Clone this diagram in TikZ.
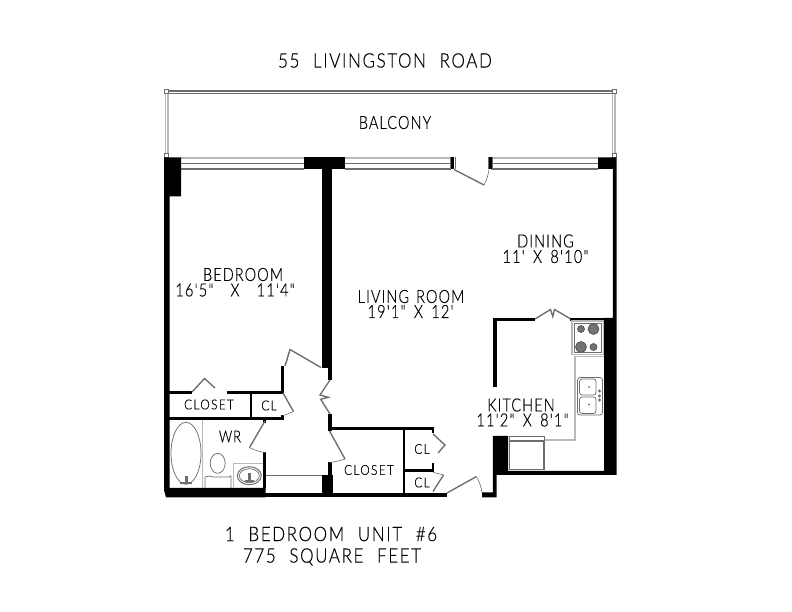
\documentclass[tikz,border=0pt]{standalone}
\usepackage{fontspec}
\setmainfont{Liberation Sans}
\newfontfamily\planfont[LetterSpace=6.0,WordSpace=1.4,FakeStretch=0.8,FakeBold=0.3]{Lato Light}
\newfontfamily\sizefont[LetterSpace=7.0,WordSpace=1.6,FakeStretch=0.8,FakeBold=0.3]{Lato Light}
\newfontfamily\titlefont[LetterSpace=8.0,WordSpace=2.2,FakeStretch=0.85,FakeBold=0.3]{Lato Light}
\newfontfamily\closetfont[LetterSpace=10.0,FakeStretch=0.86,FakeBold=0.3]{Lato Light}
\definecolor{mgrey}{RGB}{110,110,110}
\definecolor{mlight}{RGB}{185,185,185}
\tikzset{
  solid wall/.style={fill=black, draw=none},
  door leaf/.style={draw=mgrey, line width=1.1pt},
  door arc/.style={draw=mgrey, line width=0.5pt},
  rail/.style={draw=mgrey, line width=0.9pt},
  rail light/.style={draw=mlight, line width=1.1pt},
  fixture/.style={draw=mgrey, line width=0.6pt},
  room label/.style={font=\planfont\fontsize{14.5}{14.5}\selectfont, align=center, inner sep=0pt},
  size label/.style={font=\sizefont\fontsize{14.5}{14.5}\selectfont, align=center, inner sep=0pt},
  title label/.style={font=\titlefont\fontsize{16}{16}\selectfont, align=center, inner sep=0pt},
  small label/.style={font=\closetfont\fontsize{11}{11}\selectfont, align=center, inner sep=0pt},
}
\begin{document}
\begin{tikzpicture}[y=0.80pt, x=0.80pt, yscale=-1.000000, xscale=1.000000, inner sep=0pt, outer sep=0pt]
\useasboundingbox (0,0) rectangle (792,612);

% balcony
\draw[rail] (166,91) -- (614,91);
\draw[rail] (166,93.5) -- (614,93.5);
\draw[rail light] (165.5,92) -- (165.5,155);
\draw[rail light] (168,92) -- (168,155);
\draw[rail light] (612.5,92) -- (612.5,155);
\draw[rail light] (615,92) -- (615,155);
\foreach \bx/\by in {166/91.5, 166/155, 614.5/91.5, 614.5/155}
  \draw[mgrey, fill=white, line width=0.4pt] (\bx-2,\by-2) rectangle (\bx+2,\by+2);

% windows
\foreach \wa/\wb in {181/304, 345/451, 491/598} {
  \draw[rail light] (\wa,158) -- (\wb,158);
  \draw[rail] (\wa,163.5) -- (\wb,163.5);
  \draw[rail] (\wa,169) -- (\wb,169);
}

% outer walls
\fill[solid wall] (164,157.5) -- (181,157.5) -- (181,196.5) -- (169.5,196.5) -- (169.5,488) -- (265.5,488) -- (265.5,497.5) -- (166,497.5) -- (164,490) -- cycle;
\fill[solid wall] (304,157.5) rectangle (345,169);
\fill[solid wall] (322,169) rectangle (331.5,368);
\fill[solid wall] (328,368) rectangle (331.5,380);
\fill[solid wall] (598,157.5) -- (616.5,157.5) -- (616.5,475) -- (496.5,475) -- (496.5,497.5) -- (482,497.5) -- (482,492.5) -- (492.8,492.5) -- (492.8,436) -- (508,436) -- (508,471) -- (604,471) -- (604,318) -- (612.8,318) -- (612.8,169) -- (598,169) -- cycle;
\fill[solid wall] (265,492.7) rectangle (447,497.5);
\fill[solid wall] (322,475) rectangle (332.5,497.5);
\fill[solid wall] (328.2,462) rectangle (331.5,475);
\fill[solid wall] (328.2,414) rectangle (331.5,431);
\fill[solid wall] (328.2,426.8) rectangle (434,430);

% kitchen walls
\fill[solid wall] (492.8,318.3) rectangle (535,321);
\fill[solid wall] (492.8,318.3) rectangle (496.5,387);
\fill[solid wall] (570,318.3) rectangle (604,321);

% inner walls, bedroom side
\fill[solid wall] (169,391.5) rectangle (191.5,394);
\fill[solid wall] (226.5,391.5) rectangle (284,394);
\fill[solid wall] (281,366) rectangle (284,394);
\fill[solid wall] (250,393) rectangle (252,418);
\fill[solid wall] (169,417.5) rectangle (284,420);
\fill[solid wall] (281,415) rectangle (284,420);
\fill[solid wall] (263.3,420) rectangle (266,423);
\fill[solid wall] (263.3,452) rectangle (266,488);

% closet walls
\fill[solid wall] (402.7,430) rectangle (405,493);
\fill[solid wall] (404,469.2) rectangle (434,471.8);
\fill[solid wall] (431.8,427) rectangle (434,433);
\fill[solid wall] (431.8,463) rectangle (434,471);

% doors
\draw[door leaf] (192,392) -- (204.5,378.5) -- (215,388);
\draw[door leaf] (285,366) -- (290,349.5) -- (321,367.5);
\draw[door arc] (285,366) .. controls (287,361) and (288,356) .. (290,349.5);
\draw[door leaf] (283,393) -- (293.5,411.5);
\draw[door arc] (293.5,411.5) .. controls (290,413) and (287,414.5) .. (283,415.5);
\draw[door leaf] (330,380) -- (320,395) -- (328.3,397.3) -- (320.7,399.3) -- (330,414);
\draw[door leaf] (329.5,431) -- (345,459);
\draw[door arc] (345,459) .. controls (339,461) and (334,462) .. (329.5,462.5);
\draw[door leaf] (265,421) -- (249.5,447.5);
\draw[door arc] (249.5,447.5) .. controls (254,450) and (260,452) .. (265,452.5);
\draw[door leaf] (433,434) -- (445,445) -- (438,453);
\draw[door leaf] (433,491.5) -- (443.5,475);
\draw[door arc] (443.5,475) .. controls (440,474) and (436,473) .. (433,472.5);
\draw[door leaf] (447,493) -- (476.5,476.5);
\draw[door arc] (476.5,476.5) .. controls (479,481) and (481,486) .. (482,492.5);
\draw[door leaf] (535,319) -- (550.5,309.5) -- (552.8,316.5) -- (554.5,309.5) -- (570,318.5);
\draw[door leaf] (454,169.5) -- (484,185);
\draw[door arc] (484,185) .. controls (487,180) and (488,175) .. (489,169.5);
\fill[solid wall] (451,157.5) rectangle (454,169.5);
\fill[solid wall] (489,157.5) rectangle (491.5,169.5);
\draw[mgrey, line width=0.6pt] (450.5,157.5) -- (450.5,169.5) (455,157.5) -- (455,169.5) (488.5,157.5) -- (488.5,169.5) (492,157.5) -- (492,169.5);

% stove
\draw[mlight, line width=1pt] (572,321) rectangle (603.5,354.5);
\draw[fixture] (574,323) rectangle (601,352.5);
\foreach \bx/\by/\br in {581/329/3.5, 593.5/329/5.5, 581/347/5.5, 593.5/347/3.5}
  \draw[black!70, fill=black!55, line width=0.5pt] (\bx,\by) circle (\br);

% counter and sink
\draw[rail light] (604,356.5) -- (575,356.5) -- (575,440) -- (545,440);
\draw[fixture, rounded corners=2pt] (577.5,377.5) rectangle (602.5,415);
\draw[fixture, rounded corners=2pt] (579.5,379) rectangle (596,395);
\draw[fixture, rounded corners=2pt] (579.5,397) rectangle (596,413.5);
\foreach \by in {387,404.5}
  \fill[mgrey] (589,\by) circle (1);
\foreach \by in {391,396,400}
  \draw[fixture] (599.5,\by) circle (1);

% fridge
\draw[mgrey, line width=1.2pt] (509.5,441) rectangle (544,469.5);
\draw[fixture] (509.5,436) rectangle (544,441);

% bath
\draw[fixture] (186,453.3) ellipse (15 and 31);
\draw[mlight, line width=0.6pt] (202.7,420) -- (202.7,488);
\fill[mgrey] (184.5,476) rectangle (187.5,483);
\fill[mgrey] (180,482) rectangle (192,484);
\draw[fixture] (217.7,463.3) ellipse (7.5 and 10);
\draw[fixture] (205,488) -- (205,477) -- (210,476) -- (213,477) -- (229,477) -- (231,476) -- (231,488);
\draw[mlight, line width=0.8pt] (233.5,488) -- (233.5,464) -- (263,464);
\draw[fixture, line width=0.8pt] (249.3,475.7) ellipse (12 and 9);
\draw[fixture] (249.3,475.7) ellipse (10 and 7);
\fill[mgrey] (248,473) rectangle (250.5,481);
\fill[mgrey] (244.5,480) rectangle (254,482);

% threshold
\draw[fixture] (266,475.5) -- (322,475.5);

% labels
\node[title label] (lbltitle) at (385,60.5) {55 LIVINGSTON ROAD};
\node[room label] (lblbalcony) at (395,122.5) {BALCONY};
\node[room label] (lbldining) at (545.5,241) {DINING};
\node[size label] (lbldiningsize) at (545.5,256.5) {11' X 8'10"};
\node[room label] (lblbedroom) at (243,274.5) {BEDROOM};
\node[size label] (lblbedroomsize) at (235,290) {16'5"\hspace{7pt} X \hspace{7pt}11'4"};
\node[room label] (lblliving) at (411,296.5) {LIVING ROOM};
\node[size label] (lbllivingsize) at (410.5,311.5) {19'1" X 12'};
\node[room label] (lblkitchen) at (521,405) {KITCHEN};
\node[size label] (lblkitchensize) at (522.5,420) {11'2" X 8'1"};
\node[small label] (lblclosetone) at (209,404.5) {CLOSET};
\node[small label] (lblclosettwo) at (369,470) {CLOSET};
\node[small label] (lblclone) at (269,405.5) {CL};
\node[small label] (lblcltwo) at (422,449) {CL};
\node[small label] (lblclthree) at (422,482.5) {CL};
\node[font=\planfont\fontsize{13}{13}\selectfont] (lblwr) at (230,436.5) {WR};
\node[title label] (lblunit) at (331,534) {1 BEDROOM UNIT \#6};
\node[title label] (lblsqft) at (332,557) {775 SQUARE FEET};

\end{tikzpicture}
\end{document}
